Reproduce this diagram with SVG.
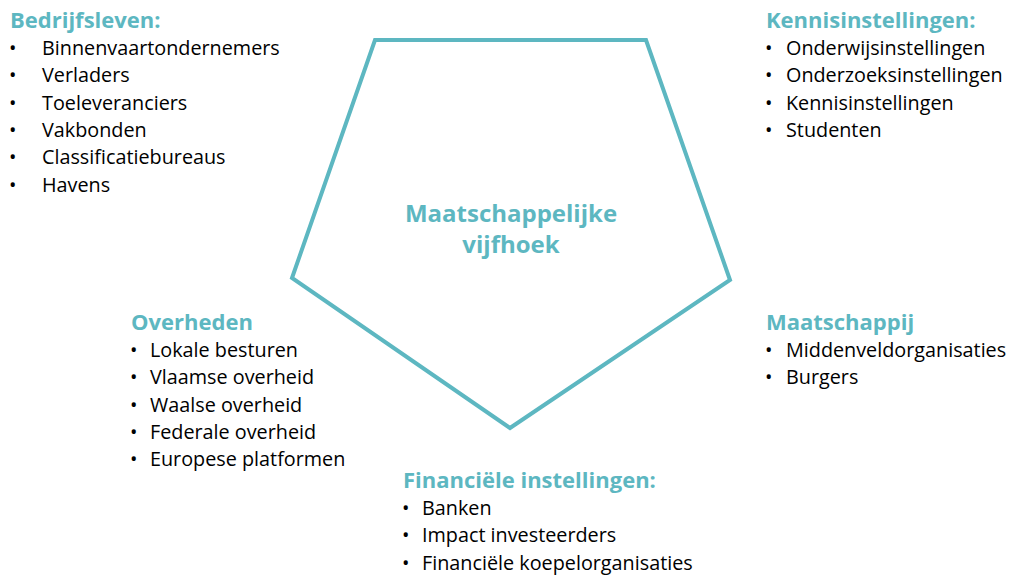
<svg xmlns="http://www.w3.org/2000/svg" width="1011" height="577" viewBox="0 0 1011 577">
<style>
.t{font-family:"Open Sans","Noto Sans",sans-serif;font-size:22px;font-weight:bold;fill:#5DB7C1}
.i{font-family:"Open Sans","Noto Sans",sans-serif;font-size:19.8px;fill:#000}
.c{font-family:"Open Sans","Noto Sans",sans-serif;font-size:24px;font-weight:bold;fill:#5DB7C1;text-anchor:middle}
</style>
<rect width="1011" height="577" fill="#fff"/>
<g id="pentagon"><polygon points="375,40 646,40 730,280 510,428 292,278" fill="none" stroke="#5DB7C1" stroke-width="4"/></g>
<g id="center"><text class="c" x="511" y="222">Maatschappelijke</text><text class="c" x="511" y="253">vijfhoek</text></g>
<g id="bedrijfsleven">
<text class="t" x="10" y="28">Bedrijfsleven:</text>
<text class="i" x="9" y="55">•<tspan x="42">Binnenvaartondernemers</tspan></text>
<text class="i" x="9" y="82">•<tspan x="42">Verladers</tspan></text>
<text class="i" x="9" y="110">•<tspan x="42">Toeleveranciers</tspan></text>
<text class="i" x="9" y="137">•<tspan x="42">Vakbonden</tspan></text>
<text class="i" x="9" y="164">•<tspan x="42">Classificatiebureaus</tspan></text>
<text class="i" x="9" y="192">•<tspan x="42">Havens</tspan></text>
</g>
<g id="kennis">
<text class="t" x="766" y="28">Kennisinstellingen:</text>
<text class="i" x="765" y="55">•<tspan x="786">Onderwijsinstellingen</tspan></text>
<text class="i" x="765" y="82">•<tspan x="786">Onderzoeksinstellingen</tspan></text>
<text class="i" x="765" y="110">•<tspan x="786">Kennisinstellingen</tspan></text>
<text class="i" x="765" y="137">•<tspan x="786">Studenten</tspan></text>
</g>
<g id="overheden">
<text class="t" x="131" y="330">Overheden</text>
<text class="i" x="130" y="357">•<tspan x="150">Lokale besturen</tspan></text>
<text class="i" x="130" y="384">•<tspan x="150">Vlaamse overheid</tspan></text>
<text class="i" x="130" y="412">•<tspan x="150">Waalse overheid</tspan></text>
<text class="i" x="130" y="439">•<tspan x="150">Federale overheid</tspan></text>
<text class="i" x="130" y="466">•<tspan x="150">Europese platformen</tspan></text>
</g>
<g id="maatschappij">
<text class="t" x="766" y="330">Maatschappij</text>
<text class="i" x="765" y="357">•<tspan x="786">Middenveldorganisaties</tspan></text>
<text class="i" x="765" y="384">•<tspan x="786">Burgers</tspan></text>
</g>
<g id="financieel">
<text class="t" x="403" y="488">Financiële instellingen:</text>
<text class="i" x="402" y="515">•<tspan x="422">Banken</tspan></text>
<text class="i" x="402" y="542">•<tspan x="422">Impact investeerders</tspan></text>
<text class="i" x="402" y="570">•<tspan x="422">Financiële koepelorganisaties</tspan></text>
</g>
</svg>
